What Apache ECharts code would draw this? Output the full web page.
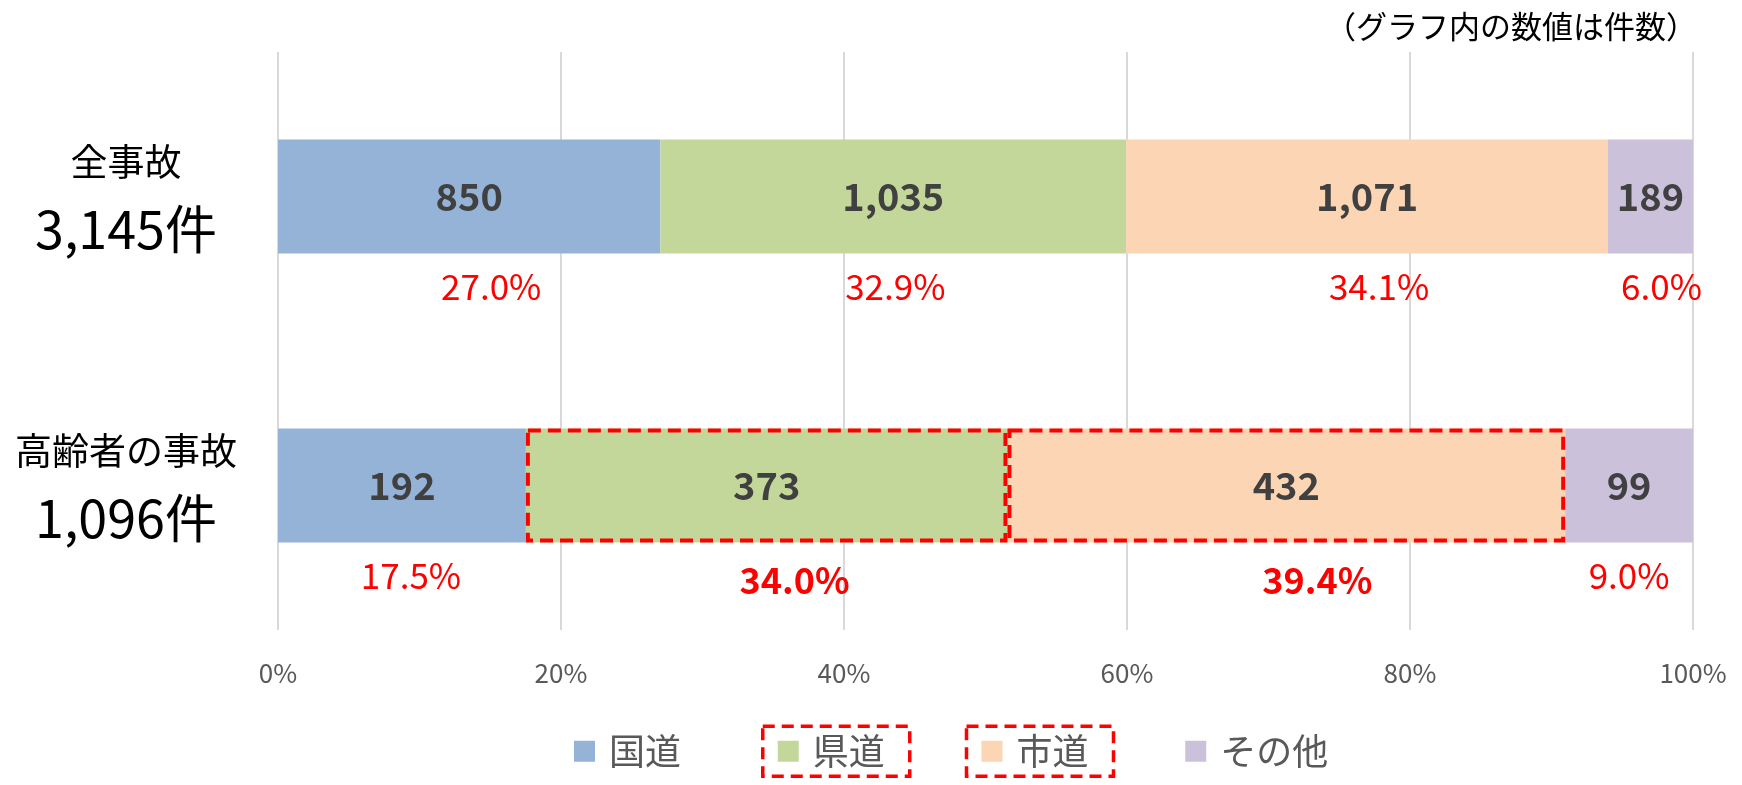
<!DOCTYPE html>
<html>
<head>
<meta charset="utf-8">
<script src="https://cdn.jsdelivr.net/npm/echarts@6/dist/echarts.min.js"></script>
<style>
  html, body { margin: 0; padding: 0; background: #fff; }
  #chart { width: 1742px; height: 785px; }
</style>
</head>
<body>
<div id="chart"></div>
<script>
// 行ラベル
const categories = ['全事故', '高齢者の事故'];
const totalLabels = ['3,145件', '1,096件'];
// 道路種別
const roadNames = ['国道', '県道', '市道', 'その他'];
const roadColors = ['#95B3D7', '#C4D79B', '#FCD5B5', '#CCC1DA'];
// 件数 [全事故, 高齢者の事故]
const kokudo = [850, 192];
const kendo = [1035, 373];
const shido = [1071, 432];
const sonota = [189, 99];
const xTicks = [0, 20, 40, 60, 80, 100];

const counts = [kokudo, kendo, shido, sonota];
const rowTotals = categories.map((c, i) => counts.reduce((s, arr) => s + arr[i], 0));
// 強調するセル（高齢者の事故の県道・市道）
const highlight = { 1: [1], 2: [1] };
// 割合ラベルの横ずれ（元の図の手動配置に合わせる）
const pctShift = [[22, 2, 12, 11], [9, 28, 31, 0]];

const myChart = echarts.init(document.getElementById('chart'));
const FONT = '"Noto Sans CJK JP", "Noto Sans", sans-serif';

let series = [];
// 色付きの棒（件数ラベル）
counts.forEach((arr, k) => {
  series.push({
    name: roadNames[k],
    type: 'bar',
    stack: 'cnt',
    barWidth: 114,
    itemStyle: { color: roadColors[k] },
    label: {
      show: true,
      position: 'inside',
      color: '#404040',
      fontWeight: 'bold',
      fontSize: 38,
      fontFamily: FONT,
      formatter: p => arr[p.dataIndex].toLocaleString('en-US')
    },
    data: arr.map((v, i) => v / rowTotals[i] * 100)
  });
});
// 透明な棒（割合ラベル・点線枠）
counts.forEach((arr, k) => {
  series.push({
    name: roadNames[k] + '%',
    type: 'bar',
    stack: 'pct',
    barWidth: 114,
    barGap: '-100%',
    silent: true,
    z: 5,
    itemStyle: { color: 'rgba(0,0,0,0)' },
    label: {
      show: true,
      position: 'bottom',
      distance: 16,
      color: '#FF0000',
      fontSize: 35,
      fontFamily: FONT,
      formatter: p => (arr[p.dataIndex] / rowTotals[p.dataIndex] * 100).toFixed(1) + '%'
    },
    data: arr.map((v, i) => {
      let item = { value: v / rowTotals[i] * 100, label: { offset: [pctShift[i][k], 0] } };
      if (highlight[k] && highlight[k].indexOf(i) >= 0) {
        item.itemStyle = {
          color: 'rgba(0,0,0,0)',
          borderColor: '#FF0000',
          borderWidth: 4,
          borderType: [13, 7]
        };
        item.label.fontWeight = 'bold';
        item.label.fontSize = 36;
        item.label.offset = [pctShift[i][k], 4];
      }
      return item;
    })
  });
});

let legendRich = {
  t: { fontSize: 36, color: '#595959', fontFamily: FONT, padding: [0, 0, 0, 14], verticalAlign: 'middle' }
};
roadColors.forEach((c, k) => {
  legendRich['i' + k] = { width: 21, height: 21, backgroundColor: c, verticalAlign: 'middle' };
});

let option = {
  textStyle: { fontFamily: FONT },
  title: {
    text: '（グラフ内の数値は件数）',
    right: 40,
    top: 6,
    textStyle: { fontSize: 31, fontWeight: 'normal', color: '#000', fontFamily: FONT }
  },
  legend: {
    bottom: 2,
    left: 549,
    itemWidth: 0,
    itemHeight: 0,
    itemGap: 50,
    selectedMode: false,
    formatter: name => '{i' + roadNames.indexOf(name) + '|}{t|' + name + '}',
    textStyle: { rich: legendRich, padding: [7, 25, 7, 15] },
    data: roadNames.map((n, k) => {
      let boxed = (k === 1 || k === 2);
      return {
        name: n,
        textStyle: {
          borderColor: boxed ? '#FF0000' : 'rgba(0,0,0,0)',
          borderWidth: 3.5,
          borderType: [12, 7],
          padding: [7, 25, 7, 15]
        }
      };
    })
  },
  grid: { left: 278, right: 49, top: 52, bottom: 155 },
  xAxis: {
    type: 'value',
    min: xTicks[0],
    max: xTicks[xTicks.length - 1],
    interval: xTicks[1] - xTicks[0],
    axisLine: { show: false },
    axisTick: { show: false },
    axisLabel: { formatter: '{value}%', color: '#595959', fontSize: 26, margin: 30, fontFamily: FONT },
    splitLine: { lineStyle: { color: '#D9D9D9', width: 2 } }
  },
  yAxis: {
    type: 'category',
    inverse: true,
    data: categories,
    axisLine: { show: false },
    axisTick: { show: false },
    axisLabel: {
      margin: 152,
      align: 'center',
      formatter: (v, i) => '{a|' + v + '}\n{b|' + totalLabels[i] + '}',
      rich: {
        a: { fontSize: 37, lineHeight: 66, color: '#000', fontFamily: FONT },
        b: { fontSize: 52, lineHeight: 70, color: '#000', fontFamily: FONT }
      }
    }
  },
  series: series
};
myChart.setOption(option);
</script>
</body>
</html>
